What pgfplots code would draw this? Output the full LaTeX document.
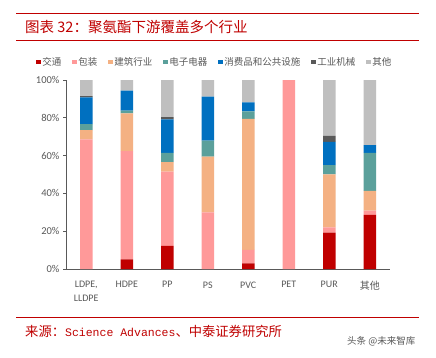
\documentclass[border=0pt]{standalone}
\usepackage{pgfplots}
\pgfplotsset{compat=1.18}
\usepackage{fontspec}
\setmainfont{Carlito}
\newfontfamily\cjk{Noto Sans CJK SC}
\newfontfamily\mono{Liberation Mono}
\definecolor{cJT}{RGB}{192,0,0}
\definecolor{cBZ}{RGB}{255,153,153}
\definecolor{cJZ}{RGB}{244,177,131}
\definecolor{cDZ}{RGB}{91,160,155}
\definecolor{cXF}{RGB}{0,112,192}
\definecolor{cGY}{RGB}{89,89,89}
\definecolor{cQT}{RGB}{191,191,191}
\definecolor{titlered}{RGB}{192,0,0}
\definecolor{labgray}{RGB}{89,89,89}
\begin{document}
\begin{tikzpicture}
\useasboundingbox (0pt,0pt) rectangle (436pt,357pt);
\fill[white] (0pt,0pt) rectangle (436pt,357pt);
% title rules
\draw[titlered, line width=1.6pt] (16pt,343.5pt) -- (419pt,343.5pt);
\draw[titlered, line width=0.9pt] (16pt,317pt) -- (419pt,317pt);
\node[anchor=west, text=titlered, font=\cjk\fontsize{14.5}{16}\selectfont, inner sep=0pt] at (25pt,330pt) {图表 32：聚氨酯下游覆盖多个行业};
% source
\draw[titlered, line width=0.9pt] (16pt,40pt) -- (419pt,40pt);
\node[anchor=west, text=titlered, font=\cjk\fontsize{13.3}{15}\selectfont, inner sep=0pt] at (25pt,26pt) {来源：{\mono\fontsize{11.5}{14}\selectfont Science Advances}、中泰证券研究所};
\node[anchor=west, text=labgray, font=\cjk\fontsize{9.5}{11}\selectfont, inner sep=0pt] at (347pt,15.5pt) {头条 @未来智库};
\begin{axis}[
  at={(66pt,88pt)}, anchor=south west,
  scale only axis, width=324pt, height=189pt,
  ybar stacked, bar width=12.5pt,
  xmin=-0.5, xmax=7.5, ymin=0, ymax=100,
  axis x line*=bottom, axis y line*=left,
  axis line style={draw=labgray, line width=0.8pt},
  xtick={0,1,2,3,4,5,6,7},
  xticklabels={{LDPE,\\LLDPE},HDPE,PP,PS,PVC,PET,PUR,{\cjk 其他}},
  xticklabel style={align=center, text=labgray, font=\fontsize{10}{14}\selectfont, anchor=north, yshift=-6pt},
  major x tick style={draw=none},
  extra x ticks={0.5,1.5,2.5,3.5,4.5,5.5,6.5,7.5},
  extra x tick labels={},
  extra x tick style={major tick length=3pt, tick align=inside, tick style={draw=labgray, line width=0.8pt}},
  ytick={0,20,40,60,80,100},
  yticklabels={0\%,20\%,40\%,60\%,80\%,100\%},
  yticklabel style={text=labgray, font=\fontsize{10.5}{12}\selectfont},
  ytick style={draw=labgray, line width=0.8pt},
  major tick length=3pt, tick align=outside,
  /pgf/number format/assume math mode=true,
  legend style={at={(0.458,1.095)}, anchor=center, draw=none, fill=none,
    legend columns=-1, font=\cjk\fontsize{9.5}{11}\selectfont, text=labgray,
    /tikz/every even column/.append style={column sep=9pt},
    nodes={inner xsep=1.5pt, inner ysep=1pt},
    inner sep=0pt},
  legend image code/.code={\fill[#1] (0pt,-2.2pt) rectangle (5pt,2.2pt);},
  every axis plot/.append style={draw=none},
]
\addplot[fill=cJT] coordinates {(0,0) (1,5.1) (2,12.3) (3,0) (4,3) (5,0) (6,19.2) (7,28.6)};
\addplot[fill=cBZ] coordinates {(0,68.6) (1,57.3) (2,39.2) (3,30) (4,7.1) (5,100) (6,2.8) (7,2.3)};
\addplot[fill=cJZ] coordinates {(0,4.9) (1,20) (2,5.1) (3,29.4) (4,69.3) (5,0) (6,28.1) (7,10.4)};
\addplot[fill=cDZ] coordinates {(0,3.2) (1,1.4) (2,4.8) (3,8.5) (4,4.0) (5,0) (6,4.8) (7,20.1)};
\addplot[fill=cXF] coordinates {(0,14.1) (1,10.6) (2,17.8) (3,23.3) (4,4.8) (5,0) (6,12.3) (7,4.1)};
\addplot[fill=cGY] coordinates {(0,0.7) (1,0) (2,1.2) (3,0) (4,0) (5,0) (6,3.2) (7,0)};
\addplot[fill=cQT] coordinates {(0,8.5) (1,5.6) (2,19.6) (3,8.8) (4,11.8) (5,0) (6,29.6) (7,34.5)};
\legend{交通,包装,建筑行业,电子电器,消费品和公共设施,工业机械,其他}
\end{axis}
\end{tikzpicture}
\end{document}
